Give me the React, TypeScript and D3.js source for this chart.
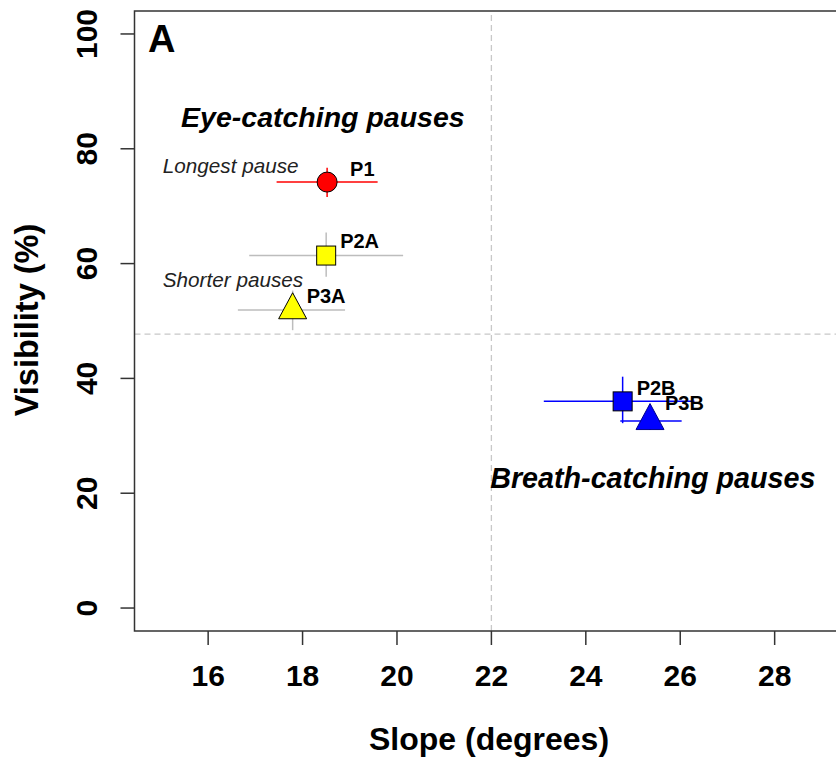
import * as d3 from 'd3';

// pause types and their mean slope / visibility with error bar bounds
const pauses = ['P1', 'P2A', 'P3A', 'P2B', 'P3B'];
const slopeMean = [18.52, 18.5, 17.79, 24.78, 25.36];
const slopeLo = [17.45, 16.87, 16.63, 23.11, 24.73];
const slopeHi = [19.59, 20.13, 18.9, 26.3, 26.03];
const visMean = [74.2, 61.4, 51.9, 36.0, 32.6];
const visLo = [71.6, 57.7, 48.4, 32.2, 31.0];
const visHi = [76.7, 65.4, 55.3, 40.3, 34.3];

const xTicks = [16, 18, 20, 22, 24, 26, 28];
const yTicks = [0, 20, 40, 60, 80, 100];
const xCut = 22;
const yCut = 47.7;

const WIDTH = 836;
const HEIGHT = 758;
const FONT = '"Liberation Sans", Arial, sans-serif';

// marker style per pause
const STYLE: Record<string, { shape: string; fill: string; stroke: string; bar: string; dx: number; dy: number }> = {
    P1: { shape: 'circle', fill: '#ff0000', stroke: '#000', bar: '#ff0000', dx: 23, dy: -6 },
    P2A: { shape: 'square', fill: '#ffff00', stroke: '#000', bar: '#bdbdbd', dx: 14, dy: -8 },
    P3A: { shape: 'triangle', fill: '#ffff00', stroke: '#000', bar: '#bdbdbd', dx: 14, dy: -7 },
    P2B: { shape: 'square', fill: '#0000ff', stroke: '#000', bar: '#0000ff', dx: 14, dy: -6 },
    P3B: { shape: 'triangle', fill: '#0000ff', stroke: '#00008b', bar: '#0000ff', dx: 15, dy: -11 },
};

const x = d3.scaleLinear().domain([14.44, 29.56]).range([134.5, 848.3]);
const y = d3.scaleLinear().domain([-4, 104]).range([631, 11]);

const marker = (p: string, cx: number, cy: number) => {
    const s = STYLE[p];
    if (s.shape === 'circle') {
        return <circle cx={cx} cy={cy} r={10} fill={s.fill} stroke={s.stroke} strokeWidth={1} />;
    }
    if (s.shape === 'square') {
        return <rect x={cx - 9.5} y={cy - 9.5} width={19} height={19} fill={s.fill} stroke={s.stroke} strokeWidth={1} />;
    }
    const h = 26;
    const w = 28;
    const pts = [
        [cx, cy - (2 * h) / 3],
        [cx + w / 2, cy + h / 3],
        [cx - w / 2, cy + h / 3],
    ];
    return <polygon points={pts.map((d) => d.join(',')).join(' ')} fill={s.fill} stroke={s.stroke} strokeWidth={1} />;
};

export default function App() {
    const axisColor = '#333';
    return (
        <svg width={WIDTH} height={HEIGHT} style={{ position: 'absolute', left: 0, top: 0, background: '#fff' }} fontFamily={FONT}>
            {/* quadrant dividers */}
            <line x1={x(xCut)} x2={x(xCut)} y1={y(-4)} y2={y(104)} stroke="#c8c8c8" strokeWidth={1.3} strokeDasharray="6,4" />
            <line x1={x(14.44)} x2={x(29.56)} y1={y(yCut)} y2={y(yCut)} stroke="#c8c8c8" strokeWidth={1.3} strokeDasharray="6,4" />

            {/* box */}
            <path d={`M${x(29.56)},${y(104)}H${x(14.44)}V${y(-4)}H${x(29.56)}`} fill="none" stroke={axisColor} strokeWidth={1.5} />

            {/* x axis */}
            {xTicks.map((t) => (
                <g key={'x' + t}>
                    <line x1={x(t)} x2={x(t)} y1={y(-4)} y2={y(-4) + 14} stroke={axisColor} strokeWidth={1.5} />
                    <text x={x(t)} y={686} textAnchor="middle" fontSize={30} fontWeight="bold">
                        {t}
                    </text>
                </g>
            ))}
            {/* y axis */}
            {yTicks.map((t) => (
                <g key={'y' + t}>
                    <line x1={x(14.44) - 14} x2={x(14.44)} y1={y(t)} y2={y(t)} stroke={axisColor} strokeWidth={1.5} />
                    <text transform={`translate(97,${y(t)}) rotate(-90)`} textAnchor="middle" fontSize={30} fontWeight="bold">
                        {t}
                    </text>
                </g>
            ))}

            <text x={489} y={750} textAnchor="middle" fontSize={32} fontWeight="bold">
                Slope (degrees)
            </text>
            <text transform={`translate(38,320) rotate(-90)`} textAnchor="middle" fontSize={32.5} fontWeight="bold">
                Visibility (%)
            </text>

            <text x={148} y={52} fontSize={38} fontWeight="bold">
                A
            </text>

            {/* annotations */}
            <text x={x(18.43)} y={y(83.8)} textAnchor="middle" fontSize={28.5} fontWeight="bold" fontStyle="italic">
                Eye-catching pauses
            </text>
            <text x={x(25.42)} y={y(20.9)} textAnchor="middle" fontSize={28.7} fontWeight="bold" fontStyle="italic">
                Breath-catching pauses
            </text>
            <text x={x(15.04)} y={y(75.8)} fontSize={20.7} fontStyle="italic" fill="#222">
                Longest pause
            </text>
            <text x={x(15.04)} y={y(55.9)} fontSize={20.7} fontStyle="italic" fill="#222">
                Shorter pauses
            </text>

            {/* error bars */}
            {pauses.map((p, i) => (
                <g key={'e' + p} stroke={STYLE[p].bar} strokeWidth={1.5}>
                    <line x1={x(slopeLo[i])} x2={x(slopeHi[i])} y1={y(visMean[i])} y2={y(visMean[i])} />
                    <line x1={x(slopeMean[i])} x2={x(slopeMean[i])} y1={y(visLo[i])} y2={y(visHi[i])} />
                </g>
            ))}

            {/* points and labels */}
            {pauses.map((p, i) => (
                <g key={'m' + p}>
                    {marker(p, x(slopeMean[i]), y(visMean[i]))}
                    <text x={x(slopeMean[i]) + STYLE[p].dx} y={y(visMean[i]) + STYLE[p].dy} fontSize={20} fontWeight="bold">
                        {p}
                    </text>
                </g>
            ))}
        </svg>
    );
}
